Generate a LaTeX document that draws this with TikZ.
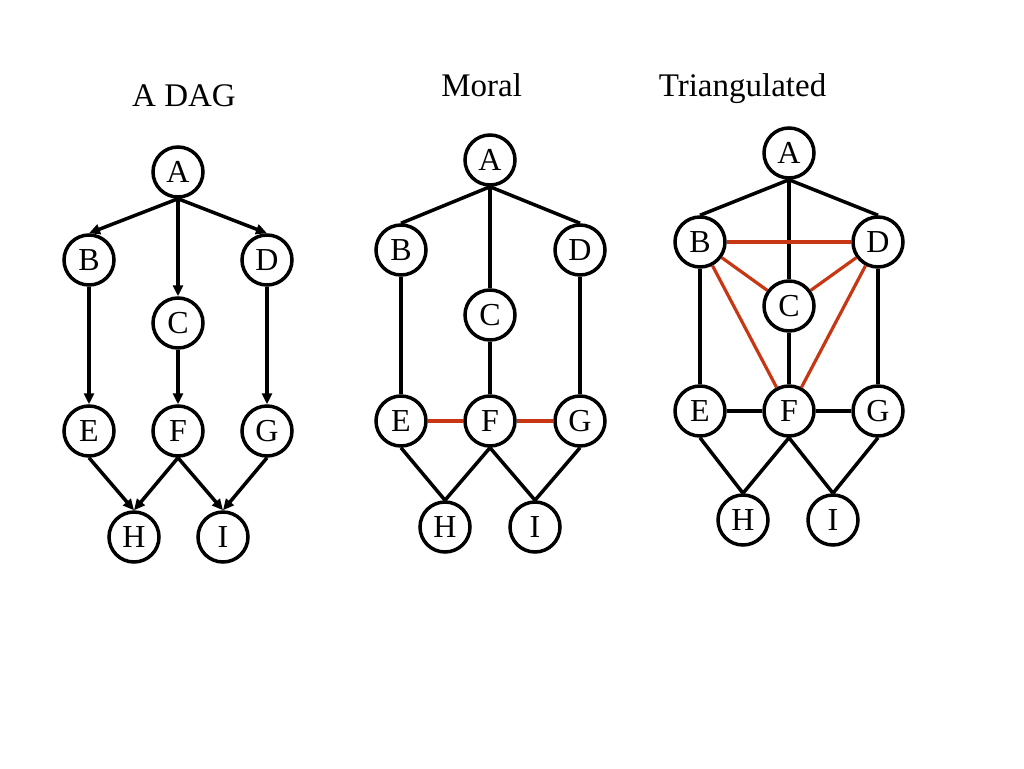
\documentclass[tikz,border=0pt]{standalone}
\usepackage{fontspec}
\setmainfont{Liberation Serif}
\usetikzlibrary{arrows.meta}
\definecolor{addred}{RGB}{200,55,20}
\tikzset{
  var/.style={circle,draw,line width=3.5pt,minimum size=50pt,inner sep=0pt,
    font=\fontsize{32}{32}\selectfont},
  title/.style={anchor=base,font=\fontsize{33}{40}\selectfont},
  added/.style={addred,line width=3.2pt},
}
\begin{document}
\begin{tikzpicture}[x=1pt,y=-1pt,line width=3.5pt,
    >={Triangle[length=11pt,width=10pt]}]
      \useasboundingbox (0,0) rectangle (1024,768);
      \node[title] (t1) at (184,106.7) {A DAG};
      \node[title] (t2) at (481.7,96.7) {Moral};
      \node[title] (t3) at (742.5,96.7) {Triangulated};
      % a DAG
      \draw
        (178,172) node[var] (dA){A}
        (89,260) node[var] (dB){B}
        (178,323) node[var] (dC){C}
        (267,260) node[var] (dD){D}
        (89,431) node[var] (dE){E}
        (178,431) node[var] (dF){F}
        (267,431) node[var] (dG){G}
        (134,537) node[var] (dH){H}
        (223,537) node[var] (dI){I};
      \begin{scope}[->]
        \draw (dA.south) to (dB.north);
        \draw (dA.south) to (dC.north);
        \draw (dA.south) to (dD.north);
        \draw (dB.south) to (dE.north);
        \draw (dC.south) to (dF.north);
        \draw (dD.south) to (dG.north);
        \draw (dE.south) to (dH.north);
        \draw (dF.south) to (dH.north);
        \draw (dF.south) to (dI.north);
        \draw (dG.south) to (dI.north);
      \end{scope}
      % moral graph
      \draw
        (490,160) node[var] (mA){A}
        (401,250) node[var] (mB){B}
        (490,315) node[var] (mC){C}
        (580,250) node[var] (mD){D}
        (401,421) node[var] (mE){E}
        (490,421) node[var] (mF){F}
        (580,421) node[var] (mG){G}
        (445,527) node[var] (mH){H}
        (535,527) node[var] (mI){I};
      \begin{scope}[-]
        \draw (mA.south) to (mB.north);
        \draw (mA.south) to (mC.north);
        \draw (mA.south) to (mD.north);
        \draw (mB.south) to (mE.north);
        \draw (mC.south) to (mF.north);
        \draw (mD.south) to (mG.north);
        \draw (mE.south) to (mH.north);
        \draw (mF.south) to (mH.north);
        \draw (mF.south) to (mI.north);
        \draw (mG.south) to (mI.north);
        \draw[added] (mE) to (mF);
        \draw[added] (mF) to (mG);
      \end{scope}
      % triangulated graph
      \draw
        (789,153) node[var] (tA){A}
        (700,242) node[var] (tB){B}
        (789,306) node[var] (tC){C}
        (878,242) node[var] (tD){D}
        (700,411) node[var] (tE){E}
        (789,411) node[var] (tF){F}
        (878,411) node[var] (tG){G}
        (743,520) node[var] (tH){H}
        (833,520) node[var] (tI){I};
      \begin{scope}[-]
        \draw (tA.south) to (tB.north);
        \draw (tA.south) to (tC.north);
        \draw (tA.south) to (tD.north);
        \draw (tB.south) to (tE.north);
        \draw (tC.south) to (tF.north);
        \draw (tD.south) to (tG.north);
        \draw (tE) to (tF);
        \draw (tF) to (tG);
        \draw (tE.south) to (tH.north);
        \draw (tF.south) to (tH.north);
        \draw (tF.south) to (tI.north);
        \draw (tG.south) to (tI.north);
        \draw[added] (tB) to (tD);
        \draw[added] (tB) to (tC);
        \draw[added] (tC) to (tD);
        \draw[added] (tB) to (tF);
        \draw[added] (tD) to (tF);
      \end{scope}
    \end{tikzpicture}
\end{document}
